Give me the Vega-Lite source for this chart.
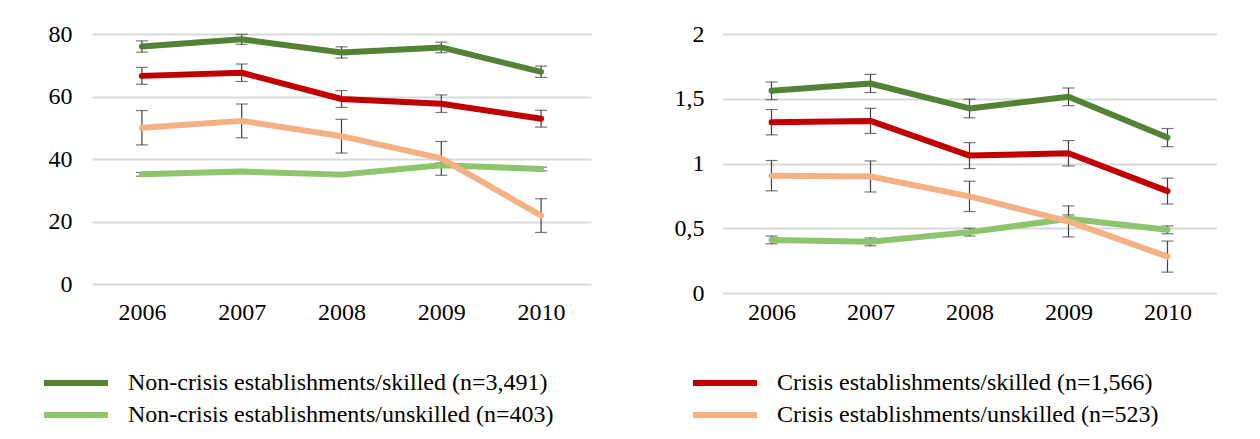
{
  "$schema": "https://vega.github.io/schema/vega-lite/v6.json",
  "padding": {"left": 44, "top": 22, "right": 0, "bottom": 0},
  "background": "white",
  "spacing": 81,
  "config": {
    "font": "Liberation Serif",
    "view": {"stroke": null},
    "axis": {"labelFont": "Liberation Serif", "labelFontSize": 24, "labelColor": "#000000", "ticks": false, "domain": false},
    "legend": {"labelFont": "Liberation Serif", "labelFontSize": 24, "labelColor": "#000000"}
  },
  "datasets": {
    "d": [
      {"panel": "L", "year": "2006", "series": "Non-crisis establishments/unskilled (n=403)", "value": 35.1, "err": 0.6},
      {"panel": "L", "year": "2007", "series": "Non-crisis establishments/unskilled (n=403)", "value": 36.0, "err": 0.6},
      {"panel": "L", "year": "2008", "series": "Non-crisis establishments/unskilled (n=403)", "value": 35.0, "err": 0.6},
      {"panel": "L", "year": "2009", "series": "Non-crisis establishments/unskilled (n=403)", "value": 38.0, "err": 0.7},
      {"panel": "L", "year": "2010", "series": "Non-crisis establishments/unskilled (n=403)", "value": 36.8, "err": 0.6},
      {"panel": "L", "year": "2006", "series": "Non-crisis establishments/skilled (n=3,491)", "value": 76.0, "err": 1.8},
      {"panel": "L", "year": "2007", "series": "Non-crisis establishments/skilled (n=3,491)", "value": 78.3, "err": 1.6},
      {"panel": "L", "year": "2008", "series": "Non-crisis establishments/skilled (n=3,491)", "value": 74.1, "err": 1.8},
      {"panel": "L", "year": "2009", "series": "Non-crisis establishments/skilled (n=3,491)", "value": 75.7, "err": 1.7},
      {"panel": "L", "year": "2010", "series": "Non-crisis establishments/skilled (n=3,491)", "value": 67.9, "err": 1.8},
      {"panel": "L", "year": "2006", "series": "Crisis establishments/skilled (n=1,566)", "value": 66.6, "err": 2.7},
      {"panel": "L", "year": "2007", "series": "Crisis establishments/skilled (n=1,566)", "value": 67.6, "err": 2.8},
      {"panel": "L", "year": "2008", "series": "Crisis establishments/skilled (n=1,566)", "value": 59.2, "err": 2.7},
      {"panel": "L", "year": "2009", "series": "Crisis establishments/skilled (n=1,566)", "value": 57.7, "err": 2.8},
      {"panel": "L", "year": "2010", "series": "Crisis establishments/skilled (n=1,566)", "value": 52.9, "err": 2.7},
      {"panel": "L", "year": "2006", "series": "Crisis establishments/unskilled (n=523)", "value": 50.0, "err": 5.5},
      {"panel": "L", "year": "2007", "series": "Crisis establishments/unskilled (n=523)", "value": 52.2, "err": 5.4},
      {"panel": "L", "year": "2008", "series": "Crisis establishments/unskilled (n=523)", "value": 47.3, "err": 5.4},
      {"panel": "L", "year": "2009", "series": "Crisis establishments/unskilled (n=523)", "value": 40.2, "err": 5.4},
      {"panel": "L", "year": "2010", "series": "Crisis establishments/unskilled (n=523)", "value": 21.9, "err": 5.4},
      {"panel": "R", "year": "2006", "series": "Non-crisis establishments/unskilled (n=403)", "value": 0.41, "err": 0.03},
      {"panel": "R", "year": "2007", "series": "Non-crisis establishments/unskilled (n=403)", "value": 0.395, "err": 0.03},
      {"panel": "R", "year": "2008", "series": "Non-crisis establishments/unskilled (n=403)", "value": 0.47, "err": 0.03},
      {"panel": "R", "year": "2009", "series": "Non-crisis establishments/unskilled (n=403)", "value": 0.573, "err": 0.03},
      {"panel": "R", "year": "2010", "series": "Non-crisis establishments/unskilled (n=403)", "value": 0.488, "err": 0.03},
      {"panel": "R", "year": "2006", "series": "Non-crisis establishments/skilled (n=3,491)", "value": 1.561, "err": 0.068},
      {"panel": "R", "year": "2007", "series": "Non-crisis establishments/skilled (n=3,491)", "value": 1.618, "err": 0.07},
      {"panel": "R", "year": "2008", "series": "Non-crisis establishments/skilled (n=3,491)", "value": 1.425, "err": 0.072},
      {"panel": "R", "year": "2009", "series": "Non-crisis establishments/skilled (n=3,491)", "value": 1.515, "err": 0.068},
      {"panel": "R", "year": "2010", "series": "Non-crisis establishments/skilled (n=3,491)", "value": 1.2, "err": 0.07},
      {"panel": "R", "year": "2006", "series": "Crisis establishments/skilled (n=1,566)", "value": 1.319, "err": 0.098},
      {"panel": "R", "year": "2007", "series": "Crisis establishments/skilled (n=1,566)", "value": 1.329, "err": 0.097},
      {"panel": "R", "year": "2008", "series": "Crisis establishments/skilled (n=1,566)", "value": 1.061, "err": 0.1},
      {"panel": "R", "year": "2009", "series": "Crisis establishments/skilled (n=1,566)", "value": 1.079, "err": 0.098},
      {"panel": "R", "year": "2010", "series": "Crisis establishments/skilled (n=1,566)", "value": 0.787, "err": 0.1},
      {"panel": "R", "year": "2006", "series": "Crisis establishments/unskilled (n=523)", "value": 0.906, "err": 0.117},
      {"panel": "R", "year": "2007", "series": "Crisis establishments/unskilled (n=523)", "value": 0.9, "err": 0.12},
      {"panel": "R", "year": "2008", "series": "Crisis establishments/unskilled (n=523)", "value": 0.746, "err": 0.117},
      {"panel": "R", "year": "2009", "series": "Crisis establishments/unskilled (n=523)", "value": 0.553, "err": 0.12},
      {"panel": "R", "year": "2010", "series": "Crisis establishments/unskilled (n=523)", "value": 0.281, "err": 0.12}
    ]
  },
  "hconcat": [
    {
      "width": 499,
      "height": 250,
      "data": {"name": "d"},
      "transform": [{"filter": "datum.panel === 'L'"}],
      "encoding": {
        "x": {"field": "year", "type": "ordinal", "title": null, "scale": {"type": "point", "padding": 0.5}, "axis": {"labelAngle": 0, "labelPadding": 16, "grid": false}}
      },
      "layer": [
        {
          "mark": {"type": "errorbar", "color": "#404040", "thickness": 1.2, "ticks": {"size": 12, "thickness": 1.2, "color": "#404040"}},
          "encoding": {
            "y": {"field": "value", "type": "quantitative", "title": null, "scale": {"domain": [0, 80]}, "axis": {"title": null, "values": [0, 20, 40, 60, 80], "grid": true, "gridColor": "#d9d9d9", "gridWidth": 2, "labelPadding": 20, "minExtent": 48}},
            "yError": {"field": "err"}
          }
        },
        {
          "mark": {"type": "line", "strokeWidth": 6, "strokeCap": "round", "strokeJoin": "round"},
          "encoding": {
            "y": {"field": "value", "type": "quantitative", "title": null},
            "color": {
              "field": "series",
              "type": "nominal",
              "scale": {
                "domain": ["Non-crisis establishments/skilled (n=3,491)", "Non-crisis establishments/unskilled (n=403)", "Crisis establishments/skilled (n=1,566)", "Crisis establishments/unskilled (n=523)"],
                "range": ["#548235", "#8DC46C", "#C00000", "#F4B183"]
              }
            }
          }
        }
      ]
    },
    {
      "width": 495,
      "height": 259,
      "data": {"name": "d"},
      "transform": [{"filter": "datum.panel === 'R'"}],
      "encoding": {
        "x": {"field": "year", "type": "ordinal", "title": null, "scale": {"type": "point", "padding": 0.5}, "axis": {"labelAngle": 0, "labelPadding": 7, "grid": false}}
      },
      "layer": [
        {
          "mark": {"type": "errorbar", "color": "#404040", "thickness": 1.2, "ticks": {"size": 12, "thickness": 1.2, "color": "#404040"}},
          "encoding": {
            "y": {"field": "value", "type": "quantitative", "title": null, "scale": {"domain": [0, 2]}, "axis": {"title": null, "values": [0, 0.5, 1, 1.5, 2], "labelExpr": "replace(toString(datum.value), '.', ',')", "grid": true, "gridColor": "#d9d9d9", "gridWidth": 2, "labelPadding": 18, "minExtent": 50}},
            "yError": {"field": "err"}
          }
        },
        {
          "mark": {"type": "line", "strokeWidth": 6, "strokeCap": "round", "strokeJoin": "round"},
          "encoding": {
            "y": {"field": "value", "type": "quantitative", "title": null},
            "color": {
              "field": "series",
              "type": "nominal",
              "scale": {
                "domain": ["Non-crisis establishments/skilled (n=3,491)", "Non-crisis establishments/unskilled (n=403)", "Crisis establishments/skilled (n=1,566)", "Crisis establishments/unskilled (n=523)"],
                "range": ["#548235", "#8DC46C", "#C00000", "#F4B183"]
              },
              "legend": {
                "title": null,
                "orient": "none",
                "legendX": -28,
                "legendY": 337,
                "columns": 2,
                "symbolType": "M-4,0H4",
                "symbolSize": 256,
                "symbolStrokeWidth": 6,
                "labelOffset": 40,
                "labelLimit": 1000,
                "columnPadding": 127,
                "rowPadding": 8
              }
            }
          }
        }
      ]
    }
  ],
  "resolve": {"scale": {"color": "shared"}}
}
